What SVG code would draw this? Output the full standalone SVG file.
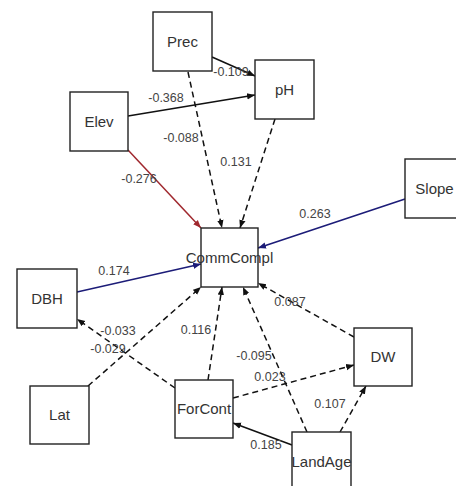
<svg xmlns="http://www.w3.org/2000/svg" width="456" height="486" viewBox="0 0 456 486">
<style>
.box{fill:#fff;stroke:#222;stroke-width:1.4}
.nl{font-family:"Liberation Sans",Arial,sans-serif;font-size:15px;fill:#333;text-anchor:middle}
.el{font-family:"Liberation Sans",Arial,sans-serif;font-size:12.5px;fill:#444;text-anchor:middle}
.e{fill:none;stroke-width:1.5}
.k{stroke:#111}
.d{stroke:#111;stroke-dasharray:6,4}
.r{stroke:#a0282e}
.b{stroke:#1c1c78}
</style>
<defs>
<marker id="ak" viewBox="0 0 10 10" refX="10" refY="5" markerWidth="8" markerHeight="8" markerUnits="userSpaceOnUse" orient="auto"><path d="M0,1 L10,5 L0,9 z" fill="#111"/></marker>
<marker id="ar" viewBox="0 0 10 10" refX="10" refY="5" markerWidth="8" markerHeight="8" markerUnits="userSpaceOnUse" orient="auto"><path d="M0,1 L10,5 L0,9 z" fill="#a0282e"/></marker>
<marker id="ab" viewBox="0 0 10 10" refX="10" refY="5" markerWidth="8" markerHeight="8" markerUnits="userSpaceOnUse" orient="auto"><path d="M0,1 L10,5 L0,9 z" fill="#1c1c78"/></marker>
</defs>
<rect width="456" height="486" fill="#fff"/>
<g id="connectors">
<line class="e k" x1="212" y1="57" x2="255" y2="76" marker-end="url(#ak)"/>
<line class="e k" x1="128" y1="116" x2="255" y2="95" marker-end="url(#ak)"/>
<line class="e d" x1="188" y1="72" x2="222" y2="228" marker-end="url(#ak)"/>
<line class="e d" x1="275" y1="119" x2="240" y2="228" marker-end="url(#ak)"/>
<line class="e r" x1="128" y1="150" x2="201" y2="228" marker-end="url(#ar)"/>
<line class="e b" x1="405" y1="199" x2="258" y2="248" marker-end="url(#ab)"/>
<line class="e b" x1="77" y1="292" x2="201" y2="264" marker-end="url(#ab)"/>
<line class="e d" x1="88" y1="386" x2="201" y2="287" marker-end="url(#ak)"/>
<line class="e d" x1="175" y1="388" x2="77" y2="319" marker-end="url(#ak)"/>
<line class="e d" x1="208" y1="380" x2="222" y2="287" marker-end="url(#ak)"/>
<line class="e d" x1="307" y1="432" x2="243" y2="287" marker-end="url(#ak)"/>
<line class="e d" x1="354" y1="337" x2="258" y2="283" marker-end="url(#ak)"/>
<line class="e d" x1="233" y1="398" x2="354" y2="365" marker-end="url(#ak)"/>
<line class="e d" x1="340" y1="432" x2="366" y2="386" marker-end="url(#ak)"/>
<line class="e k" x1="292" y1="445" x2="233" y2="423" marker-end="url(#ak)"/>
<text class="el" x="231" y="76">-0.109</text>
<text class="el" x="166" y="102">-0.368</text>
<text class="el" x="181" y="142">-0.088</text>
<text class="el" x="236" y="166">0.131</text>
<text class="el" x="139" y="183">-0.276</text>
<text class="el" x="315" y="218">0.263</text>
<text class="el" x="114" y="275">0.174</text>
<text class="el" x="118" y="335">-0.033</text>
<text class="el" x="108" y="353">-0.029</text>
<text class="el" x="196" y="334">0.116</text>
<text class="el" x="254" y="360">-0.095</text>
<text class="el" x="290" y="306">0.087</text>
<text class="el" x="270" y="381">0.023</text>
<text class="el" x="330" y="408">0.107</text>
<text class="el" x="266" y="449">0.185</text>
</g>
<g id="Prec"><rect class="box" x="153" y="12" width="59" height="59"/><text class="nl" x="182.5" y="47">Prec</text></g>
<g id="pH"><rect class="box" x="255" y="60" width="59" height="59"/><text class="nl" x="284.5" y="95">pH</text></g>
<g id="Elev"><rect class="box" x="70" y="92" width="58" height="59"/><text class="nl" x="99" y="127">Elev</text></g>
<g id="CommCompl"><rect class="box" x="201" y="228" width="57" height="59"/><text class="nl" x="229.5" y="263">CommCompl</text></g>
<g id="Slope"><rect class="box" x="405" y="159" width="59" height="59"/><text class="nl" x="434.5" y="194">Slope</text></g>
<g id="DBH"><rect class="box" x="17" y="269" width="60" height="59"/><text class="nl" x="47" y="304">DBH</text></g>
<g id="Lat"><rect class="box" x="30" y="386" width="59" height="58"/><text class="nl" x="59.5" y="420">Lat</text></g>
<g id="ForCont"><rect class="box" x="175" y="380" width="58" height="58"/><text class="nl" x="204" y="414">ForCont</text></g>
<g id="DW"><rect class="box" x="354" y="328" width="58" height="58"/><text class="nl" x="383" y="362">DW</text></g>
<g id="LandAge"><rect class="box" x="292" y="432" width="59" height="59"/><text class="nl" x="321.5" y="467">LandAge</text></g>
</svg>
